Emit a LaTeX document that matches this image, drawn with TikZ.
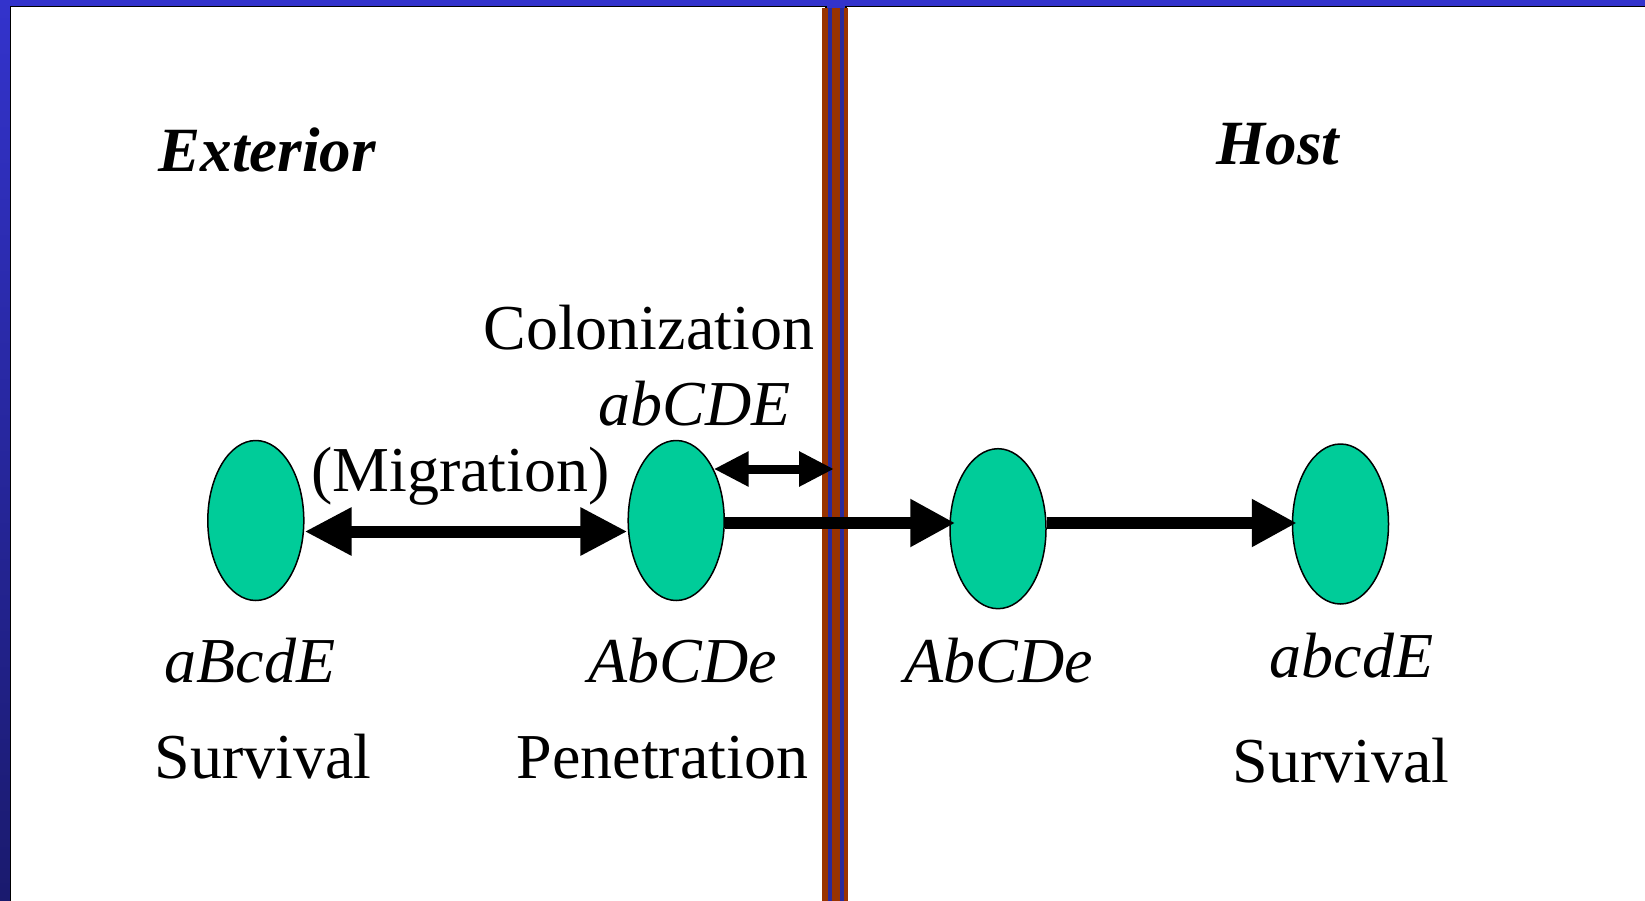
\documentclass[tikz,border=0pt]{standalone}
\usepackage{fontspec}
\setmainfont{Liberation Serif}
\usetikzlibrary{arrows.meta,shapes.geometric,calc}
\definecolor{frametop}{HTML}{3333CC}
\definecolor{framebot}{HTML}{1A1A6E}
\definecolor{cellgreen}{HTML}{00CC99}
\definecolor{barbrown}{HTML}{993300}
\definecolor{barblue}{HTML}{2A2A9A}
\begin{document}
\begin{tikzpicture}[x=1pt,y=-1pt,
  cell/.style={ellipse,draw=black,line width=1.5pt,fill=cellgreen,minimum width=96pt,minimum height=160pt,inner sep=0pt},
  lbl/.style={anchor=base,inner sep=0pt,font=\fontsize{64}{72}\selectfont},
  ttl/.style={anchor=base,inner sep=0pt,font=\fontsize{63}{72}\selectfont\bfseries\itshape},
  bigarrow/.style={line width=12pt,-{Triangle[length=45pt,width=45pt]}},
  dblarrow/.style={line width=12pt,{Triangle[length=47pt,width=45pt]}-{Triangle[length=47pt,width=45pt]}},
  smallarrow/.style={line width=9pt,{Triangle[length=35pt,width=33pt]}-{Triangle[length=35pt,width=33pt]}}
]
\useasboundingbox (0,0) rectangle (1645,901);
% background frame
\shade[top color=frametop,bottom color=framebot] (0,0) rectangle (1645,901);
% panels
\draw[fill=white,line width=1.5pt] (10.5,6.5) rectangle (826,910);
\draw[fill=white,line width=1.5pt] (846,6.5) rectangle (1660,910);
% barrier
\fill[barbrown] (822,8) rectangle (848,901);
\fill[barblue] (828,8) rectangle (832,901);
\fill[barblue] (840,8) rectangle (844,901);
% titles
\node[ttl] (ext) at (267,172) {Exterior};
\node[ttl] (host) at (1278,165) {Host};
% cells
\node[cell] (E1) at (255.8,520.5) {};
\node[cell] (E2) at (676.2,520.5) {};
\node[cell] (E3) at (998,528.7) {};
\node[cell] (E4) at (1340.5,524) {};
% labels
\node[lbl] (colon) at (648.8,349) {Colonization};
\node[lbl] (g0) at (694.5,425) {\itshape abCDE};
\node[lbl] (migr) at (460.5,491) {(Migration)};
\node[lbl] (g1) at (250,682) {\itshape aBcdE};
\node[lbl] (g2) at (683,682) {\itshape AbCDe};
\node[lbl] (g3) at (998.7,682) {\itshape AbCDe};
\node[lbl] (g4) at (1351.7,677.6) {\itshape abcdE};
\node[lbl] (s1) at (263.3,778) {Survival};
\node[lbl] (pen) at (662.5,778) {Penetration};
\node[lbl] (s2) at (1341,782.6) {Survival};
% connectors
\coordinate (mig) at (0,531.5);
\coordinate (mid) at (0,523);
\coordinate (bar) at (834,469);
\draw[dblarrow] (E1.east|-mig) -- (E2.west|-mig);
\draw[smallarrow] (bar-|E2.54.5) -- (bar);
\draw[bigarrow,shorten >=-6pt] (E2.east|-mid) -- (E3.west|-mid);
\draw[bigarrow,shorten >=-5pt] (E3.east|-mid) -- (E4.west|-mid);
\end{tikzpicture}
\end{document}
